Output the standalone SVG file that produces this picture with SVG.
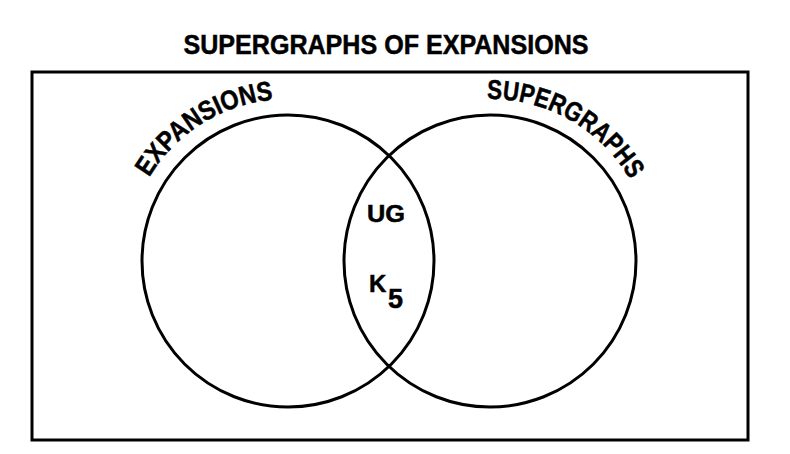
<svg xmlns="http://www.w3.org/2000/svg" width="790" height="454" viewBox="0 0 790 454">
  <style>
    .line { fill: none; stroke: #000; stroke-width: 3; }
    .txt { font-family: "Liberation Sans", Arial, sans-serif; font-weight: bold; fill: #000; stroke: #000; stroke-width: 0.5; }
  </style>
  <defs>
    <path id="arcLeft" d="M149.1,177.6 A162,162 0 0 1 288,99" fill="none"/>
    <path id="arcRight" d="M487.2,99 A162,162 0 0 1 636.8,192.5" fill="none"/>
  </defs>
  <rect width="790" height="454" fill="#fff"/>
  <g id="title">
    <text class="txt" x="386" y="54" font-size="27" text-anchor="middle" textLength="405" lengthAdjust="spacingAndGlyphs">SUPERGRAPHS OF EXPANSIONS</text>
  </g>
  <g id="frame">
    <rect class="line" x="32" y="72" width="716" height="368"/>
  </g>
  <g id="expansions">
    <circle class="line" cx="288" cy="261" r="146"/>
    <text class="txt" font-size="27"><textPath href="#arcLeft" textLength="152" lengthAdjust="spacingAndGlyphs">EXPANSIONS</textPath></text>
  </g>
  <g id="supergraphs">
    <circle class="line" cx="490" cy="261" r="146"/>
    <text class="txt" font-size="27"><textPath href="#arcRight" textLength="172" lengthAdjust="spacingAndGlyphs">SUPERGRAPHS</textPath></text>
  </g>
  <g id="intersection">
    <text class="txt" x="367" y="222" font-size="23" textLength="38" lengthAdjust="spacingAndGlyphs">UG</text>
    <text class="txt" x="369" y="292" font-size="24">K</text>
    <text class="txt" x="388" y="308" font-size="27">5</text>
  </g>
</svg>
